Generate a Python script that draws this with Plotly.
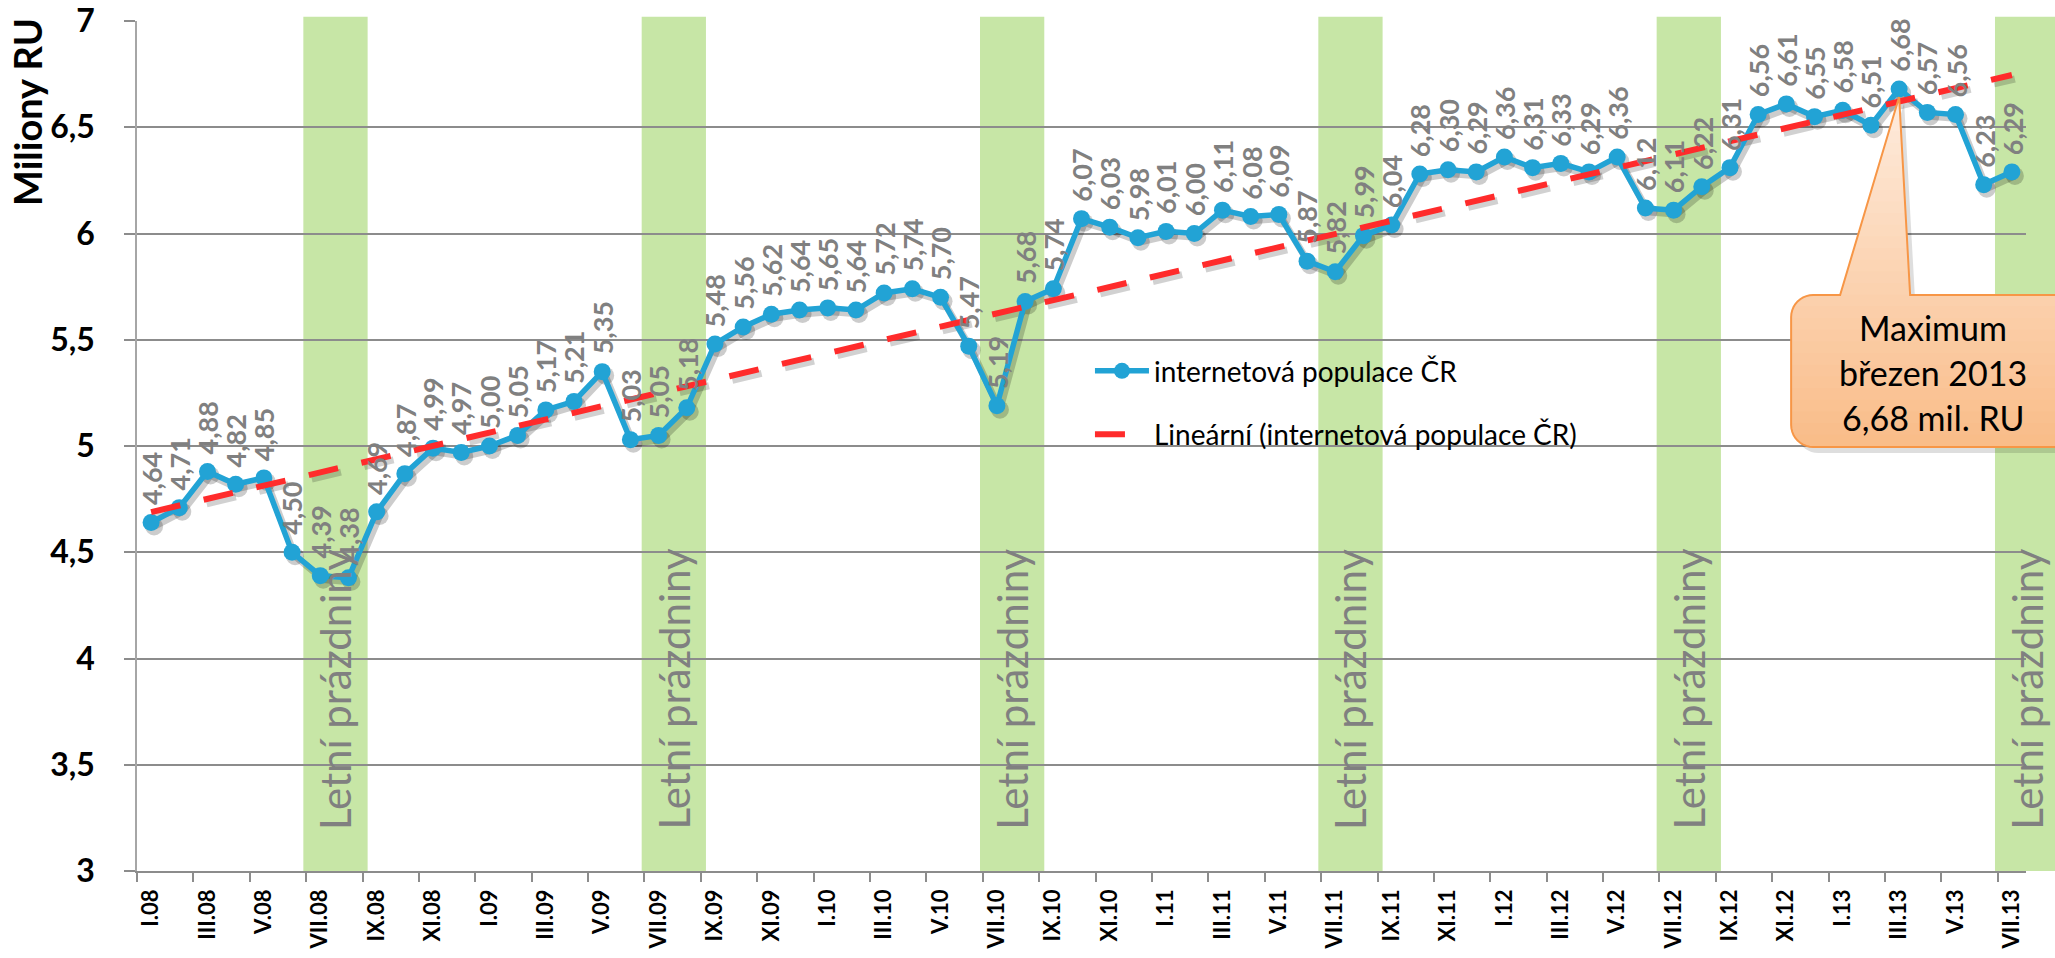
import numpy as np
import plotly.graph_objects as go

# ---------------- data ----------------
categories = [
    "I.08", "II.08", "III.08", "IV.08", "V.08", "VI.08", "VII.08", "VIII.08", "IX.08", "X.08", "XI.08", "XII.08",
    "I.09", "II.09", "III.09", "IV.09", "V.09", "VI.09", "VII.09", "VIII.09", "IX.09", "X.09", "XI.09", "XII.09",
    "I.10", "II.10", "III.10", "IV.10", "V.10", "VI.10", "VII.10", "VIII.10", "IX.10", "X.10", "XI.10", "XII.10",
    "I.11", "II.11", "III.11", "IV.11", "V.11", "VI.11", "VII.11", "VIII.11", "IX.11", "X.11", "XI.11", "XII.11",
    "I.12", "II.12", "III.12", "IV.12", "V.12", "VI.12", "VII.12", "VIII.12", "IX.12", "X.12", "XI.12", "XII.12",
    "I.13", "II.13", "III.13", "IV.13", "V.13", "VI.13", "VII.13",
]
values = [
    4.64, 4.71, 4.88, 4.82, 4.85, 4.50, 4.39, 4.38, 4.69, 4.87, 4.99, 4.97,
    5.00, 5.05, 5.17, 5.21, 5.35, 5.03, 5.05, 5.18, 5.48, 5.56, 5.62, 5.64,
    5.65, 5.64, 5.72, 5.74, 5.70, 5.47, 5.19, 5.68, 5.74, 6.07, 6.03, 5.98,
    6.01, 6.00, 6.11, 6.08, 6.09, 5.87, 5.82, 5.99, 6.04, 6.28, 6.30, 6.29,
    6.36, 6.31, 6.33, 6.29, 6.36, 6.12, 6.11, 6.22, 6.31, 6.56, 6.61, 6.55,
    6.58, 6.51, 6.68, 6.57, 6.56, 6.23, 6.29,
]
summer_starts = ["VII.08", "VII.09", "VII.10", "VII.11", "VII.12", "VII.13"]
y_ticks = [3, 3.5, 4, 4.5, 5, 5.5, 6, 6.5, 7]

series_name = "internetová populace ČR"
trend_name = "Lineární (internetová populace ČR)"
band_label = "Letní prázdniny"
y_title = "Miliony RU"
callout_at = "III.13"
callout_lines = ["Maximum", "březen 2013", "6,68 mil. RU"]

# ---------------- geometry / style ----------------
FONT = "Lato"
W, H = 2055, 958
M_L, M_R, M_T, M_B = 137, 29, 21, 87
X_MIN, X_MAX = -0.5, len(categories) - 0.5
Y_MIN, Y_MAX = y_ticks[0], y_ticks[-1]
PLOT_W = W - M_L - M_R
PLOT_H = H - M_T - M_B
PX_X = PLOT_W / (X_MAX - X_MIN)
PX_Y = PLOT_H / (Y_MAX - Y_MIN)

BLUE = "#22a3d5"
RED = "#ff2b2b"
GRAY_TXT = "#808080"
GRID = "#8c8c8c"
BAND = "#c7e6a6"
DASH = "30px,24px"


def xpaper(v):
    return (v - X_MIN) / (X_MAX - X_MIN)


def ypaper(v):
    return (v - Y_MIN) / (Y_MAX - Y_MIN)


idx = np.arange(len(values))
slope, intercept = np.polyfit(idx, values, 1)
trend = slope * idx + intercept

fig = go.Figure()

# shadow traces (offset overlay axes)
SH_DX, SH_DY = 3, 4
fig.add_trace(go.Scatter(x=idx, y=trend, mode="lines", xaxis="x2", yaxis="y2",
                         line=dict(color="rgba(0,0,0,0.18)", width=7, dash=DASH),
                         showlegend=False, hoverinfo="skip"))
fig.add_trace(go.Scatter(x=idx, y=values, mode="lines+markers", xaxis="x2", yaxis="y2",
                         line=dict(color="rgba(0,0,0,0.20)", width=7),
                         marker=dict(size=18, color="rgba(0,0,0,0.20)"),
                         showlegend=False, hoverinfo="skip"))
# invisible trace carrying the categories on the base axis
fig.add_trace(go.Scatter(x=categories, y=values, mode="lines", line=dict(width=0),
                         opacity=0, showlegend=False, hoverinfo="skip"))
# main series
fig.add_trace(go.Scatter(x=idx, y=values, mode="lines+markers", name=series_name,
                         xaxis="x3", yaxis="y3", legendgroup="a",
                         line=dict(color=BLUE, width=5.5), marker=dict(size=17, color=BLUE)))
fig.add_trace(go.Scatter(x=idx, y=trend, mode="lines", name=trend_name,
                         xaxis="x3", yaxis="y3", legendgroup="b",
                         line=dict(color=RED, width=6, dash=DASH)))

shapes = []
annotations = []

# summer holiday bands
for s in summer_starts:
    i = categories.index(s)
    shapes.append(dict(type="rect", xref="paper", yref="paper",
                       x0=xpaper(i - 0.6), x1=xpaper(i + 1.68), y0=0, y1=ypaper(7.02),
                       fillcolor=BAND, line=dict(width=0), layer="below"))
    annotations.append(dict(xref="paper", yref="y", x=xpaper(i + 0.55), y=3.855,
                            text=band_label, textangle=-90, showarrow=False,
                            xanchor="center", yanchor="middle",
                            font=dict(family=FONT, size=42, color=GRAY_TXT)))

# data labels
for c, v in zip(categories, values):
    annotations.append(dict(xref="x", yref="y", x=c, y=v,
                            text="<b>" + f"{v:.2f}".replace(".", ",") + "</b>", textangle=-90,
                            showarrow=False, xanchor="center", yanchor="bottom", yshift=15,
                            font=dict(family=FONT, size=27, color=GRAY_TXT)))

# y title
annotations.append(dict(xref="paper", yref="paper", x=(27 - M_L) / PLOT_W,
                        y=(PLOT_H + M_T - 112) / PLOT_H, text="<b>" + y_title + "</b>",
                        textangle=-90, showarrow=False, xanchor="center", yanchor="middle",
                        font=dict(family=FONT, size=38, color="black")))

# ---------------- callout ----------------
ci = categories.index(callout_at)
cv = values[ci]
tip = (0, -8)
base_l, base_r = (-59, -206), (11, -206)
bx0, bx1, by0, by1, rad = -108, 190, -358, -206, 22


def arc(cx, cy, a0, a1, n=10):
    return [(cx + rad * np.cos(np.radians(a0 + (a1 - a0) * k / n)),
             cy + rad * np.sin(np.radians(a0 + (a1 - a0) * k / n))) for k in range(n + 1)]


poly = [tip, base_r]
poly += arc(bx1 - rad, by1 - rad, 90, 0)
poly += arc(bx1 - rad, by0 + rad, 0, -90)
poly += arc(bx0 + rad, by0 + rad, -90, -180)
poly += arc(bx0 + rad, by1 - rad, 180, 90)
poly.append(base_l)


def clip(pts, yv, keep_above):
    out = []
    n = len(pts)
    for k in range(n):
        p, q = pts[k], pts[(k + 1) % n]
        pin = p[1] >= yv if keep_above else p[1] <= yv
        qin = q[1] >= yv if keep_above else q[1] <= yv
        if pin:
            out.append(p)
        if pin != qin:
            t = (yv - p[1]) / (q[1] - p[1])
            out.append((p[0] + t * (q[0] - p[0]), yv))
    return out


def path_of(pts, dx=0, dy=0):
    return "M " + " L ".join(f"{x + dx:.2f},{y + dy:.2f}" for x, y in pts) + " Z"


anchor = dict(xref="paper", yref="paper", xsizemode="pixel", ysizemode="pixel",
              xanchor=xpaper(ci), yanchor=ypaper(cv), layer="above")
shapes.append(dict(type="path", path=path_of(poly, 5, -6), fillcolor="rgba(0,0,0,0.13)",
                   line=dict(width=0), **anchor))
c_top = np.array([254, 236, 222])
c_bot = np.array([249, 188, 136])
N = 30
y_top, y_bot = tip[1], by0
for k in range(N):
    ya = y_top + (y_bot - y_top) * k / N
    yb = y_top + (y_bot - y_top) * (k + 1) / N
    sl = clip(clip(poly, ya + 0.7, False), yb - 0.7, True)
    if len(sl) < 3:
        continue
    t = (k + 0.5) / N
    col = c_top + (c_bot - c_top) * t
    shapes.append(dict(type="path", path=path_of(sl),
                       fillcolor=f"rgb({col[0]:.0f},{col[1]:.0f},{col[2]:.0f})",
                       line=dict(width=0), **anchor))
shapes.append(dict(type="path", path=path_of(poly), fillcolor="rgba(0,0,0,0)",
                   line=dict(color="#f79646", width=2), **anchor))

for k, line in enumerate(callout_lines):
    annotations.append(dict(xref="x", yref="y", x=callout_at, y=cv, text=line,
                            showarrow=False, xanchor="center", yanchor="middle",
                            xshift=34, yshift=-238 - 45 * k,
                            font=dict(family=FONT, size=34, color="black")))

fig.update_layout(
    width=W, height=H,
    margin=dict(l=M_L, r=M_R, t=M_T, b=M_B, pad=0, autoexpand=False),
    paper_bgcolor="white", plot_bgcolor="white",
    separators=", ",
    font=dict(family=FONT, color="black"),
    showlegend=True,
    legend=dict(x=xpaper(33.3), y=ypaper(5.47), xanchor="left", yanchor="top",
                bgcolor="rgba(0,0,0,0)", borderwidth=0,
                font=dict(family=FONT, size=28, color="black"),
                itemwidth=54, tracegroupgap=24),
    xaxis=dict(type="category", categoryorder="array", categoryarray=categories,
               range=[X_MIN, X_MAX], tickmode="linear", tick0=0, dtick=2,
               tickson="boundaries", ticks="outside", ticklen=9, tickwidth=1.5,
               tickcolor=GRID, showline=True, linecolor=GRID, linewidth=1.5,
               showgrid=False, zeroline=False, tickangle=-90, ticklabelstandoff=8,
               automargin=False, ticklabeloverflow="allow",
               tickfont=dict(family=FONT, size=22, color="black", weight="bold")),
    yaxis=dict(range=[Y_MIN, Y_MAX], autorange=False, tickmode="array", tickvals=y_ticks,
               ticks="outside", ticklen=11, tickwidth=1.5, tickcolor=GRID,
               showline=True, linecolor="#a6a6a6", linewidth=1.5,
               showgrid=True, gridcolor=GRID, gridwidth=1.5, zeroline=False,
               ticklabelstandoff=23, automargin=False, ticklabeloverflow="allow",
               tickfont=dict(family=FONT, size=32, color="black", weight="bold")),
    xaxis2=dict(overlaying="x", visible=False, type="linear",
                range=[X_MIN - SH_DX / PX_X, X_MAX - SH_DX / PX_X]),
    yaxis2=dict(overlaying="y", visible=False,
                range=[Y_MIN + SH_DY / PX_Y, Y_MAX + SH_DY / PX_Y]),
    xaxis3=dict(overlaying="x", visible=False, type="linear", range=[X_MIN, X_MAX]),
    yaxis3=dict(overlaying="y", visible=False, range=[Y_MIN, Y_MAX]),
    shapes=shapes,
    annotations=annotations,
)

fig.write_html("out.html", config={"displayModeBar": False},
               post_script="document.body.style.margin='0px';")
